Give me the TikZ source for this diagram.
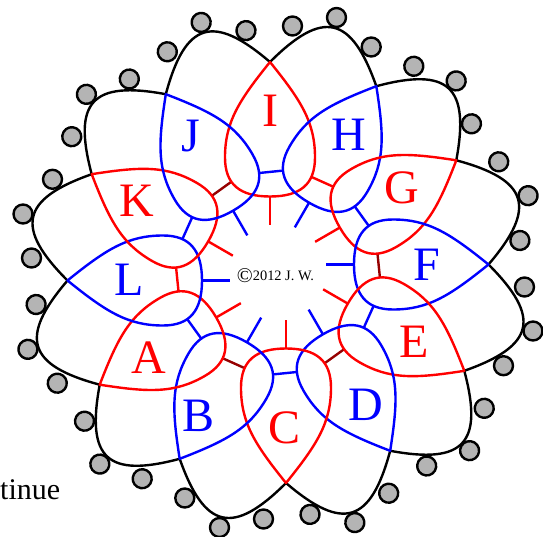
\documentclass[tikz,border=0pt]{standalone}
\usepackage{fontspec}
\setmainfont{Liberation Serif}
\definecolor{picotgray}{RGB}{180,180,180}
\definecolor{joinred}{RGB}{150,0,0}
\tikzset{
  ringline/.style={line width=2.4pt, line join=round},
  chainline/.style={line width=2.4pt, draw=black, line cap=round},
  picot/.style={line width=2.4pt, draw=black, fill=picotgray},
  joinline/.style={line width=2.4pt},
  letter/.style={font=\fontsize{48}{48}\selectfont, inner sep=0pt},
}
\begin{document}
\begin{tikzpicture}[x=1pt,y=1pt]
\useasboundingbox (-278,-263.5) rectangle (265,272.5);
% chains with picots
\foreach \k in {0,...,11}{
  \begin{scope}[rotate=-30*\k]
    \draw[chainline] (-8,210.5) .. controls (45,263.5) and (73.4,257) .. (98.3,186.3);
    \draw[picot] (14.5,246.5) circle (9.5);
    \draw[picot] (58.5,255) circle (9.5);
    \draw[picot] (93.2,225.5) circle (9.5);
  \end{scope}
}
% joins, stubs and rings
\foreach \k/\col/\jcol in {0/red/red, 1/blue/blue, 2/red/joinred, 3/blue/blue,
  4/red/joinred, 5/blue/blue, 6/red/joinred, 7/blue/blue, 8/red/red,
  9/blue/blue, 10/red/joinred, 11/blue/blue}{
  \begin{scope}[rotate=-30*\k]
    \draw[joinline, draw=\jcol] (33.4,95.6) -- (55.2,85.8);
    \draw[joinline, draw=\col] (-8,76) -- (-8,47.5);
  \end{scope}
}
\foreach \k/\col in {0/red, 1/blue, 2/red, 3/blue, 4/red, 5/blue, 6/red,
  7/blue, 8/red, 9/blue, 10/red, 11/blue}{
  \begin{scope}[rotate=-30*\k]
    \draw[ringline, draw=\col] (-8,210.5) .. controls (23.5,171.5) and (37,150) .. (37,115)
      .. controls (37,88) and (22,76) .. (-8,76)
      .. controls (-38,76) and (-53,88) .. (-53,115)
      .. controls (-53,150) and (-39.5,171.5) .. cycle;
  \end{scope}
}
% letters
\node[letter, text=red]  (I) at (-8,162) {I};
\node[letter, text=blue] (H) at (70.5,137.5) {H};
\node[letter, text=red]  (G) at (123.8,85) {G};
\node[letter, text=blue] (F) at (149,8) {F};
\node[letter, text=red]  (E) at (136.3,-69.3) {E};
\node[letter, text=blue] (D) at (88,-132.2) {D};
\node[letter, text=red]  (C) at (6.5,-155.5) {C};
\node[letter, text=blue] (B) at (-79.7,-143.8) {B};
\node[letter, text=red]  (A) at (-129,-85.5) {A};
\node[letter, text=blue] (L) at (-149,-7.5) {L};
\node[letter, text=red]  (K) at (-141.3,71.5) {K};
\node[letter, text=blue] (J) at (-87,136.5) {J};
% texts
\node[anchor=base west, inner sep=0pt, font=\fontsize{14.4}{14.4}\selectfont] (copy) at (-41.3,-8.2)
  {{\fontsize{21}{21}\selectfont\raisebox{-1.5pt}{©}}2012 J. W.};
\node[anchor=base west, inner sep=0pt, font=\fontsize{30}{30}\selectfont] (cont) at (-278,-227) {tinue};
\end{tikzpicture}
\end{document}
